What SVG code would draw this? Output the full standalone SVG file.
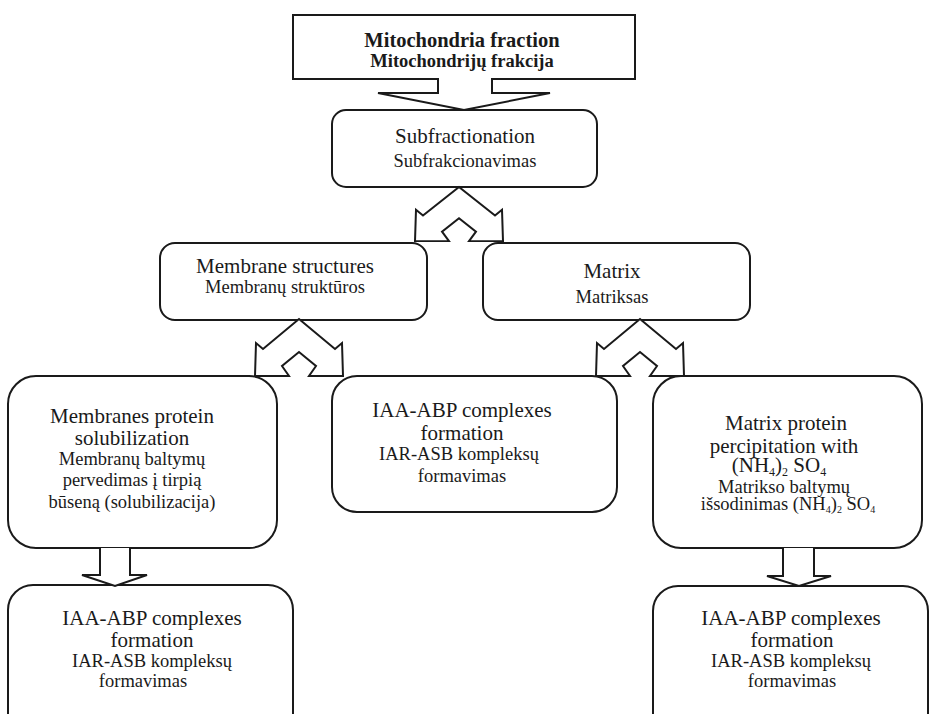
<svg xmlns="http://www.w3.org/2000/svg" xmlns:xlink="http://www.w3.org/1999/xlink" width="929" height="714" viewBox="0 0 929 714">
<style>
.box{fill:#fff;stroke:#1a1a1a;stroke-width:2}
.arr{fill:#fff;stroke:#1a1a1a;stroke-width:2;stroke-linejoin:miter}
text{font-family:"Liberation Serif","Times New Roman",serif;fill:#1a1a1a;text-anchor:middle}
.t1{font-size:21px}
.t2{font-size:18.5px}
.b1{font-size:20.5px;font-weight:bold}
.b2{font-size:18.5px;font-weight:bold}
</style>
<defs>
<path id="split" d="M0,0 L36,30 L43,24 L44,57 L10,57 L17,47 L0,33 L-17,47 L-10,57 L-44,57 L-43,24 L-36,30 Z"/>
</defs>
<rect width="929" height="714" fill="#fff"/>
<g id="n-mito">
<rect class="box" x="293" y="15" width="342" height="64"/>
<text class="b1" x="462" y="47">Mitochondria fraction</text>
<text class="b2" x="462" y="67">Mitochondrijų frakcija</text>
</g>
<g id="n-subfr">
<rect class="box" x="332" y="110" width="265" height="77" rx="14"/>
<text class="t1" x="465" y="143">Subfractionation</text>
<text class="t2" x="465" y="167">Subfrakcionavimas</text>
</g>
<g id="n-membrane">
<rect class="box" x="160" y="243" width="267" height="77" rx="15"/>
<text class="t1" x="285" y="273">Membrane structures</text>
<text class="t2" x="285" y="293">Membranų struktūros</text>
</g>
<g id="n-matrix">
<rect class="box" x="483" y="243" width="267" height="77" rx="15"/>
<text class="t1" x="612" y="278">Matrix</text>
<text class="t2" x="612" y="303">Matriksas</text>
</g>
<g id="n-solub">
<rect class="box" x="8" y="376" width="269" height="172" rx="28"/>
<text class="t1" x="132" y="423">Membranes protein</text>
<text class="t1" x="132" y="445">solubilization</text>
<text class="t2" x="132" y="465">Membranų baltymų</text>
<text class="t2" x="132" y="486">pervedimas į tirpią</text>
<text class="t2" x="132" y="508">būseną (solubilizacija)</text>
</g>
<g id="n-iaa-mid">
<rect class="box" x="332" y="376" width="285" height="136" rx="25"/>
<text class="t1" x="462" y="417">IAA-ABP complexes</text>
<text class="t1" x="462" y="440">formation</text>
<text class="t2" x="459" y="460">IAR-ASB kompleksų</text>
<text class="t2" x="462" y="482">formavimas</text>
</g>
<g id="n-precip">
<rect class="box" x="653" y="376" width="269" height="172" rx="28"/>
<text class="t1" x="786" y="430">Matrix protein</text>
<text class="t1" x="784" y="453">percipitation with</text>
<text class="t1" x="779" y="472">(NH<tspan font-size="12" dy="4">4</tspan><tspan dy="-4">)</tspan><tspan font-size="12" dy="4">2</tspan><tspan dy="-4"> SO</tspan><tspan font-size="12" dy="4">4</tspan></text>
<text class="t2" x="784" y="493">Matrikso baltymų</text>
<text class="t2" x="788" y="510">išsodinimas (NH<tspan font-size="10" dy="3">4</tspan><tspan dy="-3">)</tspan><tspan font-size="10" dy="3">2</tspan><tspan dy="-3"> SO</tspan><tspan font-size="10" dy="3">4</tspan></text>
</g>
<g id="n-iaa-left">
<rect class="box" x="8" y="585" width="285" height="160" rx="25"/>
<text class="t1" x="152" y="625">IAA-ABP complexes</text>
<text class="t1" x="152" y="647">formation</text>
<text class="t2" x="152" y="667">IAR-ASB kompleksų</text>
<text class="t2" x="143" y="687">formavimas</text>
</g>
<g id="n-iaa-right">
<rect class="box" x="653" y="586" width="275" height="160" rx="25"/>
<text class="t1" x="791" y="625">IAA-ABP complexes</text>
<text class="t1" x="792" y="647">formation</text>
<text class="t2" x="791" y="667">IAR-ASB kompleksų</text>
<text class="t2" x="792" y="687">formavimas</text>
</g>
<g id="connectors">
<path d="M439,77 V93 H378 L464,110 L550,93 H491 V77 Z" fill="#fff" stroke="none"/>
<path class="arr" fill="none" d="M438,79 V93 H378 L464,110 L550,93 H492 V79"/>
<use xlink:href="#split" class="arr" transform="translate(459,187) scale(1,0.95)"/>
<use xlink:href="#split" class="arr" transform="translate(299,319)"/>
<use xlink:href="#split" class="arr" transform="translate(640,319)"/>
<path class="arr" d="M100,548 V575 H82 L115,586 L147,575 H130 V548"/>
<path class="arr" d="M783,548 V576 H767 L799,586 L831,576 H814 V548"/>
</g>
</svg>
